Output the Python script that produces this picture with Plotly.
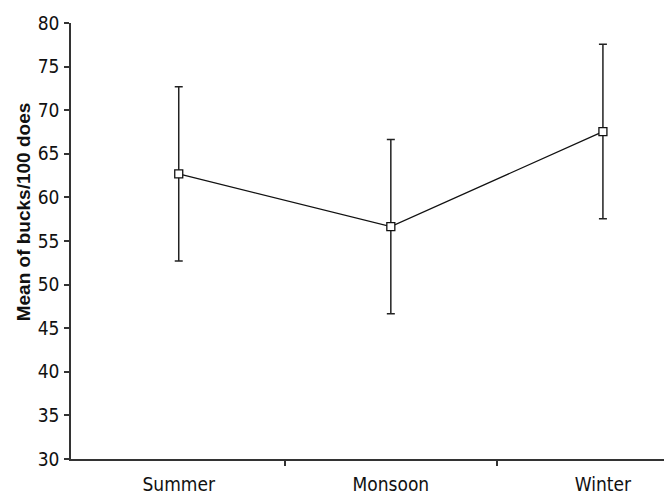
import plotly.graph_objects as go

seasons = ["Summer", "Monsoon", "Winter"]
means = [62.7, 56.65, 67.55]
errors = [10.0, 10.0, 10.0]
y_ticks = [30, 35, 40, 45, 50, 55, 60, 65, 70, 75, 80]
y_title = "Mean of bucks/100 does"

FONT = "DejaVu Sans Condensed, Liberation Sans Narrow, Arial Narrow, sans-serif"
TFONT = "Liberation Sans, Arial, sans-serif"
AX = "#333333"

x_idx = list(range(len(seasons)))

fig = go.Figure()
fig.add_trace(go.Scatter(
    x=x_idx, y=means,
    mode="lines+markers",
    line=dict(color="#111111", width=1.3),
    marker=dict(symbol="square", size=8, color="white",
                line=dict(color="#111111", width=1.3)),
    error_y=dict(type="data", array=errors, visible=True,
                 color="#222222", thickness=1.5, width=4),
    showlegend=False,
))

fig.update_layout(
    width=664, height=495,
    margin=dict(l=71, r=0, t=23, b=33),
    plot_bgcolor="white", paper_bgcolor="white",
    font=dict(family=FONT, size=19, color="#111111"),
    xaxis=dict(
        range=[-0.508, 2.288],
        tickvals=x_idx, ticktext=seasons,
        ticks="", showgrid=False, zeroline=False,
        showline=True, linecolor=AX, linewidth=1.5,
        ticklabelstandoff=7,
        minor=dict(tickvals=[0.5, 1.5], ticks="outside", ticklen=5,
                   tickcolor=AX, tickwidth=1.5, showgrid=False),
        tickfont=dict(family=FONT, size=19),
    ),
    yaxis=dict(
        range=[30, 80],
        tickvals=y_ticks,
        ticks="outside", ticklen=5, tickcolor=AX, tickwidth=1.5,
        showgrid=False, zeroline=False,
        showline=True, linecolor=AX, linewidth=1.5,
        ticklabelstandoff=1,
        tickfont=dict(family=FONT, size=19),
    ),
    annotations=[dict(
        text="<b>" + y_title + "</b>",
        xref="paper", yref="paper",
        x=-0.0808, y=0.566, xanchor="center", yanchor="middle",
        textangle=-90, showarrow=False,
        font=dict(family=TFONT, size=19, color="#111111"),
    )],
)

fig.write_html("out.html", config={"displayModeBar": False},
               post_script="document.body.style.margin='0';document.body.style.padding='0';")
